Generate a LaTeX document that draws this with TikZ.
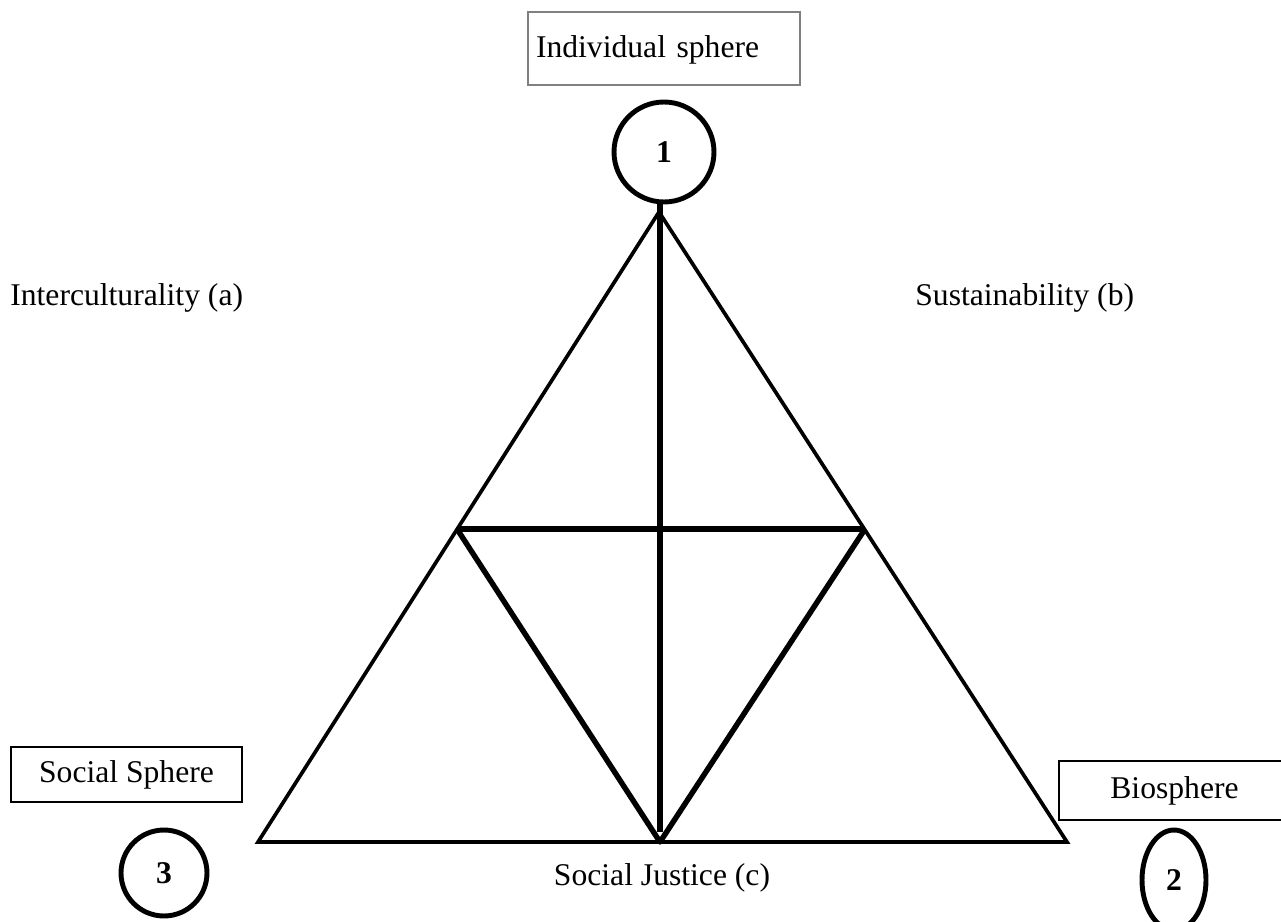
\documentclass[tikz,border=0pt]{standalone}
\usepackage{fontspec}
\setmainfont{Liberation Serif}
\usepackage{tikz}
\usetikzlibrary{shapes.geometric, positioning}
\tikzstyle{spherebox} = [rectangle, draw=black, line width=1pt, minimum width=4.62cm, minimum height=1.1cm, text centered, font=\fontsize{18}{22}\selectfont]
\tikzstyle{num} = [circle, draw=black, line width=2.8pt, minimum size=1.72cm, inner sep=0pt, font=\fontsize{18}{22}\selectfont\bfseries]
\tikzstyle{label} = [inner sep=0pt, font=\fontsize{18}{22}\selectfont]
\tikzstyle{side} = [draw, line width=2.1pt, line cap=round]
\tikzstyle{inner} = [draw, line width=3.1pt, line join=round]

\begin{document}
\begin{tikzpicture}[x=0.02cm, y=-0.02cm]
    \useasboundingbox (0,0) rectangle (1281,922);
    % Nodes
    \node [spherebox, draw=gray, line width=1.4pt, minimum width=5.44cm, minimum height=1.46cm, text width=5.12cm, inner xsep=0.16cm, align=left] (indiv) at (664,48.5) {\raisebox{-5pt}[0pt][0pt]{Individual sphere}};
    \node [num, minimum size=2cm] (one) at (664,152) {1};
    \node [spherebox] (social) at (126.5,774.5) {Social Sphere};
    \node [num] (three) at (164,873) {3};
    \node [spherebox, minimum height=1.18cm] (bio) at (1174.5,790.5) {Biosphere};
    \node [num, ellipse, minimum size=0pt, minimum width=1.28cm, minimum height=2cm] (two) at (1174,880) {2};
    \node [label, anchor=west] (inter) at (10,298) {Interculturality (a)};
    \node [label, anchor=west] (sust) at (915,298) {Sustainability (b)};
    \node [label] (justice) at (662,878) {Social Justice (c)};

    % Corners
    \coordinate (apex) at (659,212);
    \coordinate (left) at (258,842);
    \coordinate (right) at (1067,842);
    \coordinate (midl) at (457,529);
    \coordinate (midr) at (865,529);
    \coordinate (base) at (660,842);
    \coordinate (vbot) at (660,832);

    % Edges
    \path [side] (apex) -- (left) -- (right) -- cycle;
    \path [inner] (midl) -- (midr);
    \path [inner] (midl) -- (base) -- (midr);
    \path [draw, line width=3.8pt] (one.south -| vbot) -- (vbot);
\end{tikzpicture}
\end{document}
